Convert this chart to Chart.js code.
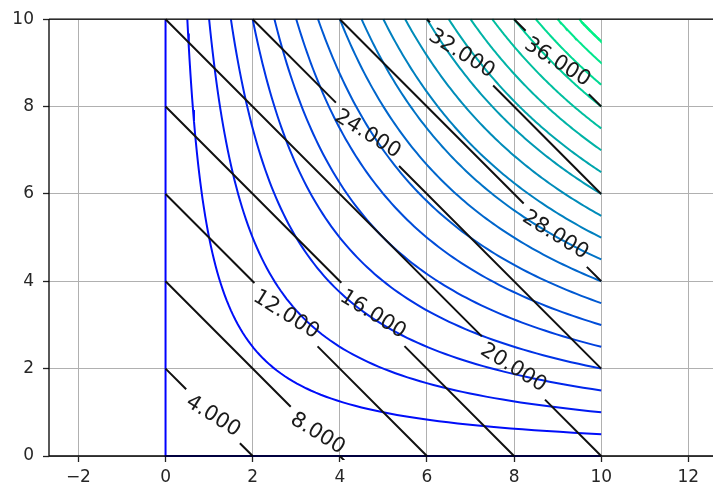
<!DOCTYPE html>
<html>
<head>
<meta charset="utf-8">
<script src="https://cdn.jsdelivr.net/npm/chart.js@4/dist/chart.umd.min.js"></script>
<style>
  html, body { margin: 0; padding: 0; background: #fff; overflow: hidden; }
  #wrap { width: 714px; height: 489px; position: relative; }
</style>
</head>
<body>
<div id="wrap"><canvas id="c"></canvas></div>
<script>
// Axis ticks
const xTicks = [-2, 0, 2, 4, 6, 8, 10, 12];
const yTicks = [0, 2, 4, 6, 8, 10];

// Contour levels of z = x*y (coloured, winter colormap)
const productLevels = [0, 5, 10, 15, 20, 25, 30, 35, 40, 45, 50, 55, 60, 65, 70, 75, 80, 85, 90, 95];
const productMax = 100;

// Contour levels of w = 2x + 2y (black, labelled)
const sumLevels = [4, 8, 12, 16, 20, 24, 28, 32, 36];
const sumLabels = ['4.000', '8.000', '12.000', '16.000', '20.000', '24.000', '28.000', '32.000', '36.000'];
// Where each label sits along its line
const labelX = [1.12, 3.53, 2.80, 4.79, 8.00, 4.68, 8.99, 6.81, 9.04];
const labelY = [0.94, 0.55, 3.27, 3.27, 2.03, 7.41, 5.10, 9.22, 9.06];

const DOMAIN = 10;
const LABEL_FONT = '21px "DejaVu Sans"';
const LABEL_ANGLE = 32 * Math.PI / 180;

function winter(t) {
  return 'rgb(0,' + Math.round(255 * t) + ',' + Math.round(255 * (1 - t / 2)) + ')';
}

// Iso-line of x*y = c inside the square [0, DOMAIN]^2
function productContour(c) {
  if (c === 0) return [{x: 0, y: DOMAIN}, {x: 0, y: 0}, {x: DOMAIN, y: 0}];
  const pts = [];
  const x0 = c / DOMAIN, n = 90;
  for (let i = 0; i <= n; i++) {
    const x = x0 * Math.pow(DOMAIN / x0, i / n);
    pts.push({x: x, y: c / x});
  }
  return pts;
}

// End points of 2x + 2y = L inside the square
function sumEnds(L) {
  const s = L / 2;
  if (s <= DOMAIN) return [{x: 0, y: s}, {x: s, y: 0}];
  return [{x: s - DOMAIN, y: DOMAIN}, {x: DOMAIN, y: s - DOMAIN}];
}

// Label anchor projected onto its line
const labelPts = sumLevels.map((L, i) => {
  const d = (L / 2 - (labelX[i] + labelY[i])) / 2;
  return {x: labelX[i] + d, y: labelY[i] + d};
});

const datasets = [];
productLevels.forEach(c => {
  datasets.push({
    data: productContour(c),
    borderColor: winter(c / productMax),
    borderWidth: 2,
    pointRadius: 0,
    tension: 0,
    clip: 4,
    order: 2
  });
});
sumLevels.forEach(L => {
  datasets.push({
    data: sumEnds(L),
    borderColor: '#111',
    borderWidth: 2,
    pointRadius: 0,
    tension: 0,
    spanGaps: false,
    clip: 4,
    order: 1,
    isSum: true
  });
});

// Spines drawn over the contour lines, then the inline labels
const overlay = {
  id: 'overlay',
  afterDatasetsDraw(chart) {
    const {ctx, chartArea: a, scales} = chart;
    ctx.save();
    ctx.strokeStyle = '#000';
    ctx.lineWidth = 1.3;
    ctx.beginPath();
    ctx.moveTo(a.left, a.top); ctx.lineTo(a.right, a.top);
    ctx.moveTo(a.left, a.top); ctx.lineTo(a.left, a.bottom);
    ctx.moveTo(a.left, a.bottom); ctx.lineTo(a.right, a.bottom);
    ctx.stroke();

    ctx.font = LABEL_FONT;
    ctx.fillStyle = '#1a1a1a';
    ctx.textAlign = 'center';
    ctx.textBaseline = 'middle';
    labelPts.forEach((p, i) => {
      const px = scales.x.getPixelForValue(p.x);
      const py = scales.y.getPixelForValue(p.y);
      ctx.save();
      ctx.translate(px, py);
      ctx.rotate(LABEL_ANGLE);
      ctx.fillText(sumLabels[i], 0, 0);
      ctx.restore();
    });
    ctx.restore();
  }
};

const tickFont = {family: 'DejaVu Sans', size: 17};
const fmt = v => (v < 0 ? '\u2212' + Math.abs(v) : String(v));

const chart = new Chart(document.getElementById('c'), {
  type: 'line',
  data: {datasets: datasets},
  plugins: [overlay],
  options: {
    responsive: true,
    maintainAspectRatio: false,
    animation: false,
    layout: {padding: {top: 19, left: 0, right: 0, bottom: 0}},
    plugins: {legend: {display: false}, tooltip: {enabled: false}},
    scales: {
      x: {
        type: 'linear',
        min: -2.675,
        max: 12.566,
        afterBuildTicks: s => { s.ticks = xTicks.map(v => ({value: v})); },
        afterFit: s => { s.height = 33; },
        ticks: {font: tickFont, color: '#262626', padding: 5, maxRotation: 0, includeBounds: false, callback: fmt},
        grid: {color: '#b0b0b0', lineWidth: 1, tickColor: '#222', tickLength: 6, tickWidth: 1.3},
        border: {display: false}
      },
      y: {
        type: 'linear',
        min: 0,
        max: 10,
        afterBuildTicks: s => { s.ticks = yTicks.map(v => ({value: v})); },
        afterFit: s => { s.width = 49; },
        ticks: {font: tickFont, color: '#262626', padding: 9, includeBounds: false, callback: fmt},
        grid: {color: '#b0b0b0', lineWidth: 1, tickColor: '#222', tickLength: 6, tickWidth: 1.3},
        border: {display: false}
      }
    }
  }
});

// Break each labelled line around its label
(function cutLabelGaps() {
  const xs = chart.scales.x, ys = chart.scales.y;
  const mctx = chart.ctx;
  mctx.save();
  mctx.font = LABEL_FONT;
  let k = 0;
  chart.data.datasets.forEach(ds => {
    if (!ds.isSum) return;
    const i = k++;
    const [A, B] = ds.data;
    const ax = xs.getPixelForValue(A.x), ay = ys.getPixelForValue(A.y);
    const bx = xs.getPixelForValue(B.x), by = ys.getPixelForValue(B.y);
    const len = Math.hypot(bx - ax, by - ay);
    const ux = (bx - ax) / len, uy = (by - ay) / len;
    const p = labelPts[i];
    const px = xs.getPixelForValue(p.x), py = ys.getPixelForValue(p.y);
    const half = mctx.measureText(sumLabels[i]).width / 2 + 8;
    const g1 = {x: xs.getValueForPixel(px - ux * half), y: ys.getValueForPixel(py - uy * half)};
    const g2 = {x: xs.getValueForPixel(px + ux * half), y: ys.getValueForPixel(py + uy * half)};
    ds.data = [A, g1, {x: (g1.x + g2.x) / 2, y: null}, g2, B];
  });
  mctx.restore();
  chart.update('none');
})();
</script>
</body>
</html>
